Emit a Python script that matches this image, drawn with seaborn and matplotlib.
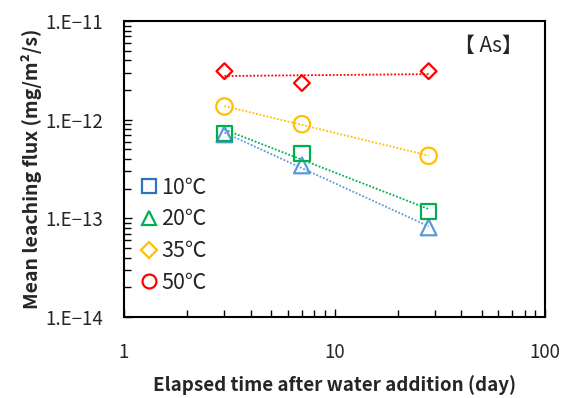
import numpy as np
import seaborn as sns
import matplotlib.pyplot as plt
from matplotlib.lines import Line2D

# values
days = [3, 7, 28]
flux_10 = [7.1e-13, 3.44e-13, 8.1e-14]
flux_20 = [7.3e-13, 4.5e-13, 1.18e-13]
flux_35 = [1.36e-12, 9.0e-13, 4.3e-13]
flux_50 = [3.1e-12, 2.35e-12, 3.1e-12]
series_labels = ['10℃', '20℃', '35℃', '50℃']
ytick_values = [1e-14, 1e-13, 1e-12, 1e-11]
ytick_labels = ['1.E\u221214', '1.E\u221213', '1.E\u221212', '1.E\u221211']
xtick_values = [1, 10, 100]
xtick_labels = ['1', '10', '100']

sns.set_style("white")
plt.rcParams['font.family'] = ['Noto Sans CJK JP', 'DejaVu Sans']

f, ax = plt.subplots(figsize=(5.64, 3.98), dpi=100)
f.subplots_adjust(left=124/564, right=545/564, top=1-21/398, bottom=1-317/398)

# data markers (colours / shapes as drawn in the chart)
series = [
    (flux_10, '#5B9BD5', '^', 130),
    (flux_20, '#00B050', 's', 120),
    (flux_35, '#FFC000', 'o', 140),
    (flux_50, '#FF0000', 'D', 65),
]
for vals, col, mk, size in series:
    # power-law trend line, like the spreadsheet's
    b, a = np.polyfit(np.log10(days), np.log10(vals), 1)
    fit = 10 ** (a + b * np.log10(days))
    sns.lineplot(x=days, y=fit, color=col, linestyle=(0, (1, 1)),
                 linewidth=1.3, ax=ax, zorder=2)
    sns.scatterplot(x=days, y=vals, marker=mk, s=size, facecolor='none',
                    edgecolor=col, linewidth=1.6, ax=ax, zorder=3)

ax.set_xscale('log')
ax.set_yscale('log')
ax.set_xlim(1, 100)
ax.set_ylim(1e-14, 1e-11)
ax.set_xticks(xtick_values)
ax.set_xticklabels(xtick_labels)
ax.set_yticks(ytick_values)
ax.set_yticklabels(ytick_labels)
ax.minorticks_on()
ax.tick_params(which='both', direction='in', top=False, right=False,
               left=True, bottom=True, width=1, color='black')
ax.tick_params(which='major', length=6)
ax.tick_params(which='minor', length=5)
ax.tick_params(axis='y', which='major', labelsize=13.5, pad=15)
ax.tick_params(axis='x', which='major', labelsize=13.5, pad=18)
for s in ax.spines.values():
    s.set_color('black')
    s.set_linewidth(1.5)

ax.set_xlabel('Elapsed time after water addition (day)', fontsize=13.5,
              fontweight='bold', va='center')
ax.xaxis.set_label_coords((335 - 124) / 421, -(385 - 317) / 296)
ax.set_ylabel('Mean leaching flux (mg/m²/s)', fontsize=14,
              fontweight='bold', va='center')
ax.yaxis.set_label_coords(-(124 - 32) / 421, 0.5)

ax.text(0.948, 0.916, '【 As】', transform=ax.transAxes, ha='right',
        va='center', fontsize=15)

# legend as it appears in the figure
legend_style = [('#2E75B6', 's'), ('#00B050', '^'), ('#FFC000', 'D'), ('#FF0000', 'o')]
handles = [Line2D([], [], linestyle='none', marker=mk, markersize=10 if mk != 'D' else 8,
                  markerfacecolor='none', markeredgecolor=col, markeredgewidth=1.6)
           for col, mk in legend_style]
ax.legend(handles, series_labels, loc='center left', bbox_to_anchor=(0.04, 0.276),
          frameon=False, fontsize=15.5, handlelength=0.8, handletextpad=0.15,
          labelspacing=0.45, borderaxespad=0.0, borderpad=0.0)

plt.savefig('out.png', dpi=100)
